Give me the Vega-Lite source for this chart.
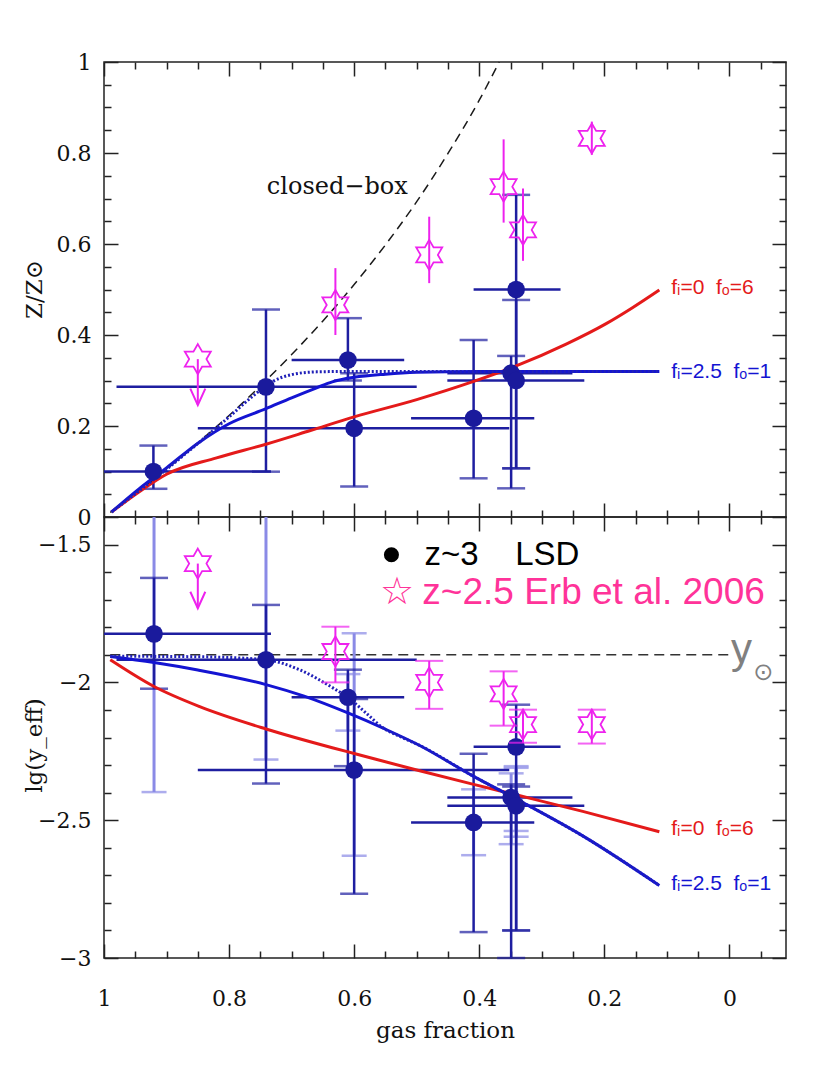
{
  "$schema": "https://vega.github.io/schema/vega-lite/v6.json",
  "background": "white",
  "padding": {"left": 22, "top": 50, "right": 0, "bottom": 0},
  "bounds": "flush",
  "spacing": 0,
  "config": {
    "view": {"stroke": "#222", "strokeWidth": 1.5},
    "axis": {"grid": false, "domain": false, "labelFlush": false, "labelOverlap": false}
  },
  "datasets": {
    "closedbox": [{"f":0.99,"z":0.010},{"f":0.95,"z":0.051},{"f":0.9,"z":0.105},{"f":0.85,"z":0.163},{"f":0.8,"z":0.223},{"f":0.75,"z":0.288},{"f":0.7,"z":0.357},{"f":0.65,"z":0.431},{"f":0.6,"z":0.511},{"f":0.55,"z":0.598},{"f":0.5,"z":0.693},{"f":0.45,"z":0.799},{"f":0.4,"z":0.916},{"f":0.368,"z":1.0}],
    "redTop": [{"f":0.988,"z":0.011},{"f":0.943,"z":0.056},{"f":0.9,"z":0.094},{"f":0.82,"z":0.13},{"f":0.741,"z":0.16},{"f":0.67,"z":0.19},{"f":0.6,"z":0.22},{"f":0.5,"z":0.258},{"f":0.409,"z":0.298},{"f":0.341,"z":0.332},{"f":0.261,"z":0.38},{"f":0.197,"z":0.425},{"f":0.155,"z":0.46},{"f":0.112,"z":0.499}],
    "blueTop": [{"f":0.988,"z":0.011},{"f":0.943,"z":0.063},{"f":0.9,"z":0.108},{"f":0.847,"z":0.165},{"f":0.8,"z":0.205},{"f":0.741,"z":0.238},{"f":0.7,"z":0.262},{"f":0.66,"z":0.284},{"f":0.635,"z":0.297},{"f":0.6,"z":0.307},{"f":0.55,"z":0.314},{"f":0.5,"z":0.318},{"f":0.4,"z":0.32},{"f":0.112,"z":0.32}],
    "dottedTop": [{"f":0.988,"z":0.011},{"f":0.9,"z":0.105},{"f":0.8,"z":0.22},{"f":0.76,"z":0.268},{"f":0.73,"z":0.298},{"f":0.7,"z":0.313},{"f":0.66,"z":0.319},{"f":0.6,"z":0.32},{"f":0.112,"z":0.32}],
    "lsdTop": [
      {"f":0.921,"z":0.100,"zlo":0.062,"zhi":0.157,"flo":0.733,"fhi":1.0},
      {"f":0.741,"z":0.286,"zlo":0.0996,"zhi":0.456,"flo":0.50,"fhi":0.98},
      {"f":0.610,"z":0.345,"zlo":0.30,"zhi":0.437,"flo":0.52,"fhi":0.70},
      {"f":0.600,"z":0.195,"zlo":0.067,"zhi":0.316,"flo":0.352,"fhi":0.85},
      {"f":0.409,"z":0.217,"zlo":0.085,"zhi":0.389,"flo":0.312,"fhi":0.509},
      {"f":0.341,"z":0.500,"zlo":0.107,"zhi":0.708,"flo":0.270,"fhi":0.409},
      {"f":0.349,"z":0.316,"zlo":0.063,"zhi":0.354,"flo":0.251,"fhi":0.451},
      {"f":0.341,"z":0.300,"zlo":0.107,"zhi":0.477,"flo":0.232,"fhi":0.451}
    ],
    "starsTop": [
      {"f":0.630,"z":0.466,"zlo":0.40,"zhi":0.547},
      {"f":0.480,"z":0.576,"zlo":0.514,"zhi":0.66},
      {"f":0.361,"z":0.726,"zlo":0.647,"zhi":0.83},
      {"f":0.330,"z":0.631,"zlo":0.563,"zhi":0.722},
      {"f":0.220,"z":0.832,"zlo":0.796,"zhi":0.869}
    ],
    "limitTop": [{"f":0.850,"z":0.347,"tip":0.246}],
    "ysun": [{"f":0.99,"v":-1.90},{"f":0.0,"v":-1.90}],
    "redBot": [{"f":0.99,"v":-1.918},{"f":0.92,"v":-2.015},{"f":0.847,"v":-2.088},{"f":0.741,"v":-2.169},{"f":0.635,"v":-2.237},{"f":0.6,"v":-2.258},{"f":0.5,"v":-2.318},{"f":0.409,"v":-2.370},{"f":0.341,"v":-2.408},{"f":0.2345,"v":-2.468},{"f":0.112,"v":-2.542}],
    "blueBot": [{"f":0.99,"v":-1.906},{"f":0.92,"v":-1.928},{"f":0.85,"v":-1.955},{"f":0.741,"v":-2.008},{"f":0.68,"v":-2.05},{"f":0.61,"v":-2.111},{"f":0.55,"v":-2.17},{"f":0.496,"v":-2.228},{"f":0.409,"v":-2.341},{"f":0.341,"v":-2.423},{"f":0.2345,"v":-2.557},{"f":0.112,"v":-2.737}],
    "dottedBot": [{"f":0.99,"v":-1.905},{"f":0.85,"v":-1.907},{"f":0.741,"v":-1.918},{"f":0.6875,"v":-1.954},{"f":0.634,"v":-2.02},{"f":0.61,"v":-2.055},{"f":0.581,"v":-2.111},{"f":0.554,"v":-2.165},{"f":0.528,"v":-2.195},{"f":0.496,"v":-2.228},{"f":0.409,"v":-2.341},{"f":0.341,"v":-2.423},{"f":0.2345,"v":-2.557},{"f":0.112,"v":-2.737}],
    "lsdBot": [
      {"f":0.920,"v":-1.824,"vlo":-2.023,"vhi":-1.621,"llo":-2.398,"lhi":-1.40,"lcap":null,"flo":0.733,"fhi":1.0},
      {"f":0.741,"v":-1.918,"vlo":-2.367,"vhi":-1.719,"llo":-2.28,"lhi":-1.40,"lcap":null,"flo":0.50,"fhi":0.98},
      {"f":0.610,"v":-2.054,"vlo":-2.304,"vhi":-1.954,"llo":-2.175,"lhi":-1.97,"lcap":-1.97,"flo":0.52,"fhi":0.70},
      {"f":0.600,"v":-2.318,"vlo":-2.767,"vhi":-2.06,"llo":-2.629,"lhi":-1.822,"lcap":-1.822,"flo":0.352,"fhi":0.85},
      {"f":0.409,"v":-2.508,"vlo":-2.906,"vhi":-2.259,"llo":-2.627,"lhi":-2.388,"lcap":-2.388,"flo":0.312,"fhi":0.509},
      {"f":0.341,"v":-2.234,"vlo":-2.90,"vhi":-2.081,"llo":-2.539,"lhi":-2.304,"lcap":-2.304,"flo":0.270,"fhi":0.409},
      {"f":0.349,"v":-2.418,"vlo":-3.0,"vhi":-2.37,"llo":-2.587,"lhi":-2.33,"lcap":-2.33,"flo":0.251,"fhi":0.451},
      {"f":0.341,"v":-2.448,"vlo":-2.90,"vhi":-2.378,"llo":-2.56,"lhi":-2.31,"lcap":-2.31,"flo":0.232,"fhi":0.451}
    ],
    "starsBot": [
      {"f":0.630,"v":-1.888,"vlo":-2.0,"vhi":-1.798},
      {"f":0.480,"v":-2.0,"vlo":-2.096,"vhi":-1.922},
      {"f":0.361,"v":-2.042,"vlo":-2.157,"vhi":-1.960},
      {"f":0.330,"v":-2.153,"vlo":-2.219,"vhi":-2.099},
      {"f":0.220,"v":-2.153,"vlo":-2.222,"vhi":-2.099}
    ],
    "limitBot": [{"f":0.850,"v":-1.569,"tip":-1.731}]
  },
  "vconcat": [
    {
      "width": 682,
      "height": 455,
      "resolve": {"axis": {"x": "independent", "y": "independent"}},
      "layer": [
        {
          "data": {"name": "closedbox"},
          "mark": {"type": "line", "color": "#1a1a1a", "strokeWidth": 1.5, "strokeDash": [9, 6], "interpolate": "monotone"},
          "encoding": {
            "x": {"field": "f", "type": "quantitative", "scale": {"domain": [-0.0905, 1], "reverse": true, "nice": false, "zero": false},
              "axis": {"orient": "bottom", "values": [1,0.95,0.9,0.85,0.8,0.75,0.7,0.65,0.6,0.55,0.5,0.45,0.4,0.35,0.3,0.25,0.2,0.15,0.1,0.05,0,-0.05], "labels": false, "title": null, "tickColor": "#222", "tickWidth": 1.5, "tickSize": {"condition": {"test": "abs(datum.value*5 - round(datum.value*5)) < 0.001", "value": -14}, "value": -7}}},
            "y": {"field": "z", "type": "quantitative", "scale": {"domain": [0, 1], "nice": false, "zero": false},
              "axis": {"orient": "left", "values": [0,0.05,0.1,0.15,0.2,0.25,0.3,0.35,0.4,0.45,0.5,0.55,0.6,0.65,0.7,0.75,0.8,0.85,0.9,0.95,1], "labels": false, "title": null, "tickColor": "#222", "tickWidth": 1.5, "tickSize": {"condition": {"test": "abs(datum.value*5 - round(datum.value*5)) < 0.001", "value": -14}, "value": -7}}}
          }
        },
        {
          "data": {"name": "lsdTop"},
          "mark": {"type": "rule", "color": "#1e1ea0", "strokeWidth": 2.5},
          "encoding": {
            "x": {"field": "flo", "type": "quantitative", "scale": {"domain": [-0.0905, 1], "reverse": true, "nice": false, "zero": false},
              "axis": {"orient": "top", "values": [1,0.95,0.9,0.85,0.8,0.75,0.7,0.65,0.6,0.55,0.5,0.45,0.4,0.35,0.3,0.25,0.2,0.15,0.1,0.05,0,-0.05], "labels": false, "title": null, "tickColor": "#222", "tickWidth": 1.5, "tickSize": {"condition": {"test": "abs(datum.value*5 - round(datum.value*5)) < 0.001", "value": -14}, "value": -7}}},
            "x2": {"field": "fhi"},
            "y": {"field": "z", "type": "quantitative", "scale": {"domain": [0, 1], "nice": false, "zero": false},
              "axis": {"orient": "right", "values": [0,0.05,0.1,0.15,0.2,0.25,0.3,0.35,0.4,0.45,0.5,0.55,0.6,0.65,0.7,0.75,0.8,0.85,0.9,0.95,1], "labels": false, "title": null, "tickColor": "#222", "tickWidth": 1.5, "tickSize": {"condition": {"test": "abs(datum.value*5 - round(datum.value*5)) < 0.001", "value": -14}, "value": -7}}}
          }
        },
        {
          "data": {"name": "lsdTop"},
          "mark": {"type": "rule", "color": "#1e1ea0", "strokeWidth": 2.5},
          "encoding": {
            "x": {"field": "f", "type": "quantitative", "scale": {"domain": [-0.0905, 1], "reverse": true, "nice": false, "zero": false}, "axis": null},
            "y": {"field": "zlo", "type": "quantitative", "scale": {"domain": [0, 1], "nice": false, "zero": false},
              "axis": {"orient": "left", "values": [0,0.2,0.4,0.6,0.8,1], "ticks": false, "labelExpr": "format(datum.value, '~g')", "labelFont": "DejaVu Serif", "labelFontSize": 22, "labelColor": "#111", "labelPadding": 13, "title": "Z/Z⊙", "titleFont": "DejaVu Serif", "titleFontSize": 23, "titleFontWeight": "normal", "titleColor": "#111", "titleX": -70, "titleY": 227, "titleBaseline": "middle", "titleAlign": "center", "titleAngle": 270}},
            "y2": {"field": "zhi"}
          }
        },
        {
          "data": {"name": "lsdTop"},
          "mark": {"type": "tick", "orient": "horizontal", "color": "#1e1ea0", "size": 28, "thickness": 2.5},
          "encoding": {
            "x": {"field": "f", "type": "quantitative", "scale": {"domain": [-0.0905, 1], "reverse": true, "nice": false, "zero": false}, "axis": null},
            "y": {"field": "zlo", "type": "quantitative", "scale": {"domain": [0, 1], "nice": false, "zero": false}, "axis": null}
          }
        },
        {
          "data": {"name": "lsdTop"},
          "mark": {"type": "tick", "orient": "horizontal", "color": "#1e1ea0", "size": 28, "thickness": 2.5},
          "encoding": {
            "x": {"field": "f", "type": "quantitative", "scale": {"domain": [-0.0905, 1], "reverse": true, "nice": false, "zero": false}, "axis": null},
            "y": {"field": "zhi", "type": "quantitative", "scale": {"domain": [0, 1], "nice": false, "zero": false}, "axis": null}
          }
        },
        {
          "data": {"name": "redTop"},
          "mark": {"type": "line", "color": "#e41a1a", "strokeWidth": 3, "interpolate": "monotone"},
          "encoding": {
            "x": {"field": "f", "type": "quantitative", "scale": {"domain": [-0.0905, 1], "reverse": true, "nice": false, "zero": false}, "axis": null},
            "y": {"field": "z", "type": "quantitative", "scale": {"domain": [0, 1], "nice": false, "zero": false}, "axis": null}
          }
        },
        {
          "data": {"name": "blueTop"},
          "mark": {"type": "line", "color": "#1414d2", "strokeWidth": 3, "interpolate": "monotone"},
          "encoding": {
            "x": {"field": "f", "type": "quantitative", "scale": {"domain": [-0.0905, 1], "reverse": true, "nice": false, "zero": false}, "axis": null},
            "y": {"field": "z", "type": "quantitative", "scale": {"domain": [0, 1], "nice": false, "zero": false}, "axis": null}
          }
        },
        {
          "data": {"name": "dottedTop"},
          "mark": {"type": "line", "color": "#2020b8", "strokeWidth": 3, "strokeDash": [2, 2], "interpolate": "monotone"},
          "encoding": {
            "x": {"field": "f", "type": "quantitative", "scale": {"domain": [-0.0905, 1], "reverse": true, "nice": false, "zero": false}, "axis": null},
            "y": {"field": "z", "type": "quantitative", "scale": {"domain": [0, 1], "nice": false, "zero": false}, "axis": null}
          }
        },
        {
          "data": {"name": "lsdTop"},
          "mark": {"type": "point", "shape": "circle", "filled": true, "color": "#1a1a9c", "size": 314, "opacity": 1},
          "encoding": {
            "x": {"field": "f", "type": "quantitative", "scale": {"domain": [-0.0905, 1], "reverse": true, "nice": false, "zero": false}, "axis": null},
            "y": {"field": "z", "type": "quantitative", "scale": {"domain": [0, 1], "nice": false, "zero": false}, "axis": null}
          }
        },
        {
          "data": {"name": "starsTop"},
          "mark": {"type": "rule", "color": "#ee22ee", "strokeWidth": 2},
          "encoding": {
            "x": {"field": "f", "type": "quantitative", "scale": {"domain": [-0.0905, 1], "reverse": true, "nice": false, "zero": false}, "axis": null},
            "y": {"field": "zlo", "type": "quantitative", "scale": {"domain": [0, 1], "nice": false, "zero": false}, "axis": null},
            "y2": {"field": "zhi"}
          }
        },
        {
          "data": {"name": "starsTop"},
          "mark": {"type": "point", "shape": "M0,-1L0.289,-0.5L0.866,-0.5L0.577,0L0.866,0.5L0.289,0.5L0,1L-0.289,0.5L-0.866,0.5L-0.577,0L-0.866,-0.5L-0.289,-0.5Z", "filled": false, "color": "#ee22ee", "strokeWidth": 1.8, "size": 900, "opacity": 1},
          "encoding": {
            "x": {"field": "f", "type": "quantitative", "scale": {"domain": [-0.0905, 1], "reverse": true, "nice": false, "zero": false}, "axis": null},
            "y": {"field": "z", "type": "quantitative", "scale": {"domain": [0, 1], "nice": false, "zero": false}, "axis": null}
          }
        },
        {
          "data": {"name": "limitTop"},
          "mark": {"type": "point", "shape": "M0,-1L0.289,-0.5L0.866,-0.5L0.577,0L0.866,0.5L0.289,0.5L0,1L-0.289,0.5L-0.866,0.5L-0.577,0L-0.866,-0.5L-0.289,-0.5Z", "filled": false, "color": "#ee22ee", "strokeWidth": 1.8, "size": 900, "opacity": 1},
          "encoding": {
            "x": {"field": "f", "type": "quantitative", "scale": {"domain": [-0.0905, 1], "reverse": true, "nice": false, "zero": false}, "axis": null},
            "y": {"field": "z", "type": "quantitative", "scale": {"domain": [0, 1], "nice": false, "zero": false}, "axis": null}
          }
        },
        {
          "data": {"name": "limitTop"},
          "mark": {"type": "rule", "color": "#ee22ee", "strokeWidth": 2},
          "encoding": {
            "x": {"field": "f", "type": "quantitative", "scale": {"domain": [-0.0905, 1], "reverse": true, "nice": false, "zero": false}, "axis": null},
            "y": {"field": "z", "type": "quantitative", "scale": {"domain": [0, 1], "nice": false, "zero": false}, "axis": null},
            "y2": {"field": "tip"}
          }
        },
        {
          "data": {"name": "limitTop"},
          "mark": {"type": "point", "shape": "M-1,-2.2L0,0L1,-2.2", "filled": false, "color": "#ee22ee", "strokeWidth": 2, "size": 225, "opacity": 1},
          "encoding": {
            "x": {"field": "f", "type": "quantitative", "scale": {"domain": [-0.0905, 1], "reverse": true, "nice": false, "zero": false}, "axis": null},
            "y": {"field": "tip", "type": "quantitative", "scale": {"domain": [0, 1], "nice": false, "zero": false}, "axis": null}
          }
        },
        {
          "data": {"values": [{"f": 0.627, "z": 0.726, "label": "closed−box"}]},
          "mark": {"type": "text", "font": "DejaVu Serif", "fontSize": 24, "color": "#111", "align": "center", "baseline": "middle"},
          "encoding": {
            "x": {"field": "f", "type": "quantitative", "scale": {"domain": [-0.0905, 1], "reverse": true, "nice": false, "zero": false}, "axis": null},
            "y": {"field": "z", "type": "quantitative", "scale": {"domain": [0, 1], "nice": false, "zero": false}, "axis": null},
            "text": {"field": "label"}
          }
        },
        {
          "data": {"values": [{"f": 0.093, "z": 0.503, "label": "fᵢ=0\u00a0\u00a0fₒ=6"}]},
          "mark": {"type": "text", "font": "Liberation Sans", "fontSize": 21, "color": "#e41a1a", "align": "left", "baseline": "middle"},
          "encoding": {
            "x": {"field": "f", "type": "quantitative", "scale": {"domain": [-0.0905, 1], "reverse": true, "nice": false, "zero": false}, "axis": null},
            "y": {"field": "z", "type": "quantitative", "scale": {"domain": [0, 1], "nice": false, "zero": false}, "axis": null},
            "text": {"field": "label"}
          }
        },
        {
          "data": {"values": [{"f": 0.093, "z": 0.319, "label": "fᵢ=2.5\u00a0\u00a0fₒ=1"}]},
          "mark": {"type": "text", "font": "Liberation Sans", "fontSize": 21, "color": "#1414d2", "align": "left", "baseline": "middle"},
          "encoding": {
            "x": {"field": "f", "type": "quantitative", "scale": {"domain": [-0.0905, 1], "reverse": true, "nice": false, "zero": false}, "axis": null},
            "y": {"field": "z", "type": "quantitative", "scale": {"domain": [0, 1], "nice": false, "zero": false}, "axis": null},
            "text": {"field": "label"}
          }
        }
      ]
    },
    {
      "width": 682,
      "height": 441,
      "resolve": {"axis": {"x": "independent", "y": "independent"}},
      "layer": [
        {
          "data": {"name": "ysun"},
          "mark": {"type": "line", "color": "#333", "strokeWidth": 1.5, "strokeDash": [10, 6]},
          "encoding": {
            "x": {"field": "f", "type": "quantitative", "scale": {"domain": [-0.0905, 1], "reverse": true, "nice": false, "zero": false},
              "axis": {"orient": "bottom", "values": [1,0.95,0.9,0.85,0.8,0.75,0.7,0.65,0.6,0.55,0.5,0.45,0.4,0.35,0.3,0.25,0.2,0.15,0.1,0.05,0,-0.05], "labels": false, "title": null, "tickColor": "#222", "tickWidth": 1.5, "tickSize": {"condition": {"test": "abs(datum.value*5 - round(datum.value*5)) < 0.001", "value": -14}, "value": -7}}},
            "y": {"field": "v", "type": "quantitative", "scale": {"domain": [-3, -1.4], "nice": false, "zero": false},
              "axis": {"orient": "left", "values": [-3,-2.9,-2.8,-2.7,-2.6,-2.5,-2.4,-2.3,-2.2,-2.1,-2,-1.9,-1.8,-1.7,-1.6,-1.5], "labels": false, "title": null, "tickColor": "#222", "tickWidth": 1.5, "tickSize": {"condition": {"test": "abs(datum.value*2 - round(datum.value*2)) < 0.001", "value": -14}, "value": -7}}}
          }
        },
        {
          "data": {"name": "lsdBot"},
          "mark": {"type": "rule", "color": "#8a8ae6", "strokeWidth": 3},
          "encoding": {
            "x": {"field": "f", "type": "quantitative", "scale": {"domain": [-0.0905, 1], "reverse": true, "nice": false, "zero": false},
              "axis": {"orient": "top", "values": [1,0.95,0.9,0.85,0.8,0.75,0.7,0.65,0.6,0.55,0.5,0.45,0.4,0.35,0.3,0.25,0.2,0.15,0.1,0.05,0,-0.05], "labels": false, "title": null, "tickColor": "#222", "tickWidth": 1.5, "tickSize": {"condition": {"test": "abs(datum.value*5 - round(datum.value*5)) < 0.001", "value": -14}, "value": -7}}},
            "y": {"field": "llo", "type": "quantitative", "scale": {"domain": [-3, -1.4], "nice": false, "zero": false},
              "axis": {"orient": "right", "values": [-3,-2.9,-2.8,-2.7,-2.6,-2.5,-2.4,-2.3,-2.2,-2.1,-2,-1.9,-1.8,-1.7,-1.6,-1.5], "labels": false, "title": null, "tickColor": "#222", "tickWidth": 1.5, "tickSize": {"condition": {"test": "abs(datum.value*2 - round(datum.value*2)) < 0.001", "value": -14}, "value": -7}}},
            "y2": {"field": "lhi"}
          }
        },
        {
          "data": {"name": "lsdBot"},
          "mark": {"type": "tick", "orient": "horizontal", "color": "#8a8ae6", "size": 25, "thickness": 2.5},
          "encoding": {
            "x": {"field": "f", "type": "quantitative", "scale": {"domain": [-0.0905, 1], "reverse": true, "nice": false, "zero": false}, "axis": null},
            "y": {"field": "llo", "type": "quantitative", "scale": {"domain": [-3, -1.4], "nice": false, "zero": false}, "axis": null}
          }
        },
        {
          "data": {"name": "lsdBot"},
          "mark": {"type": "tick", "orient": "horizontal", "color": "#8a8ae6", "size": 25, "thickness": 2.5},
          "encoding": {
            "x": {"field": "f", "type": "quantitative", "scale": {"domain": [-0.0905, 1], "reverse": true, "nice": false, "zero": false}, "axis": null},
            "y": {"field": "lcap", "type": "quantitative", "scale": {"domain": [-3, -1.4], "nice": false, "zero": false}, "axis": null}
          }
        },
        {
          "data": {"name": "lsdBot"},
          "mark": {"type": "rule", "color": "#1e1ea0", "strokeWidth": 2.5},
          "encoding": {
            "x": {"field": "flo", "type": "quantitative", "scale": {"domain": [-0.0905, 1], "reverse": true, "nice": false, "zero": false}, "axis": null},
            "x2": {"field": "fhi"},
            "y": {"field": "v", "type": "quantitative", "scale": {"domain": [-3, -1.4], "nice": false, "zero": false}, "axis": null}
          }
        },
        {
          "data": {"name": "lsdBot"},
          "mark": {"type": "rule", "color": "#1e1ea0", "strokeWidth": 2.5},
          "encoding": {
            "x": {"field": "f", "type": "quantitative", "scale": {"domain": [-0.0905, 1], "reverse": true, "nice": false, "zero": false},
              "axis": {"orient": "bottom", "values": [1,0.8,0.6,0.4,0.2,0], "ticks": false, "labelExpr": "format(datum.value, '~g')", "labelFont": "DejaVu Serif", "labelFontSize": 22, "labelColor": "#111", "labelPadding": 30, "title": "gas fraction", "titleFont": "DejaVu Serif", "titleFontSize": 23, "titleFontWeight": "normal", "titleColor": "#111", "titleX": 341, "titleY": 79, "titleBaseline": "alphabetic", "titleAlign": "center"}},
            "y": {"field": "vlo", "type": "quantitative", "scale": {"domain": [-3, -1.4], "nice": false, "zero": false},
              "axis": {"orient": "left", "values": [-3,-2.5,-2,-1.5], "ticks": false, "labelExpr": "format(datum.value, '~g')", "labelFont": "DejaVu Serif", "labelFontSize": 22, "labelColor": "#111", "labelPadding": 13, "title": "lg(y_eff)", "titleFont": "DejaVu Serif", "titleFontSize": 23, "titleFontWeight": "normal", "titleColor": "#111", "titleX": -70, "titleY": 228, "titleBaseline": "middle", "titleAlign": "center", "titleAngle": 270}},
            "y2": {"field": "vhi"}
          }
        },
        {
          "data": {"name": "lsdBot"},
          "mark": {"type": "tick", "orient": "horizontal", "color": "#1e1ea0", "size": 28, "thickness": 2.5},
          "encoding": {
            "x": {"field": "f", "type": "quantitative", "scale": {"domain": [-0.0905, 1], "reverse": true, "nice": false, "zero": false}, "axis": null},
            "y": {"field": "vlo", "type": "quantitative", "scale": {"domain": [-3, -1.4], "nice": false, "zero": false}, "axis": null}
          }
        },
        {
          "data": {"name": "lsdBot"},
          "mark": {"type": "tick", "orient": "horizontal", "color": "#1e1ea0", "size": 28, "thickness": 2.5},
          "encoding": {
            "x": {"field": "f", "type": "quantitative", "scale": {"domain": [-0.0905, 1], "reverse": true, "nice": false, "zero": false}, "axis": null},
            "y": {"field": "vhi", "type": "quantitative", "scale": {"domain": [-3, -1.4], "nice": false, "zero": false}, "axis": null}
          }
        },
        {
          "data": {"name": "redBot"},
          "mark": {"type": "line", "color": "#e41a1a", "strokeWidth": 3, "interpolate": "monotone"},
          "encoding": {
            "x": {"field": "f", "type": "quantitative", "scale": {"domain": [-0.0905, 1], "reverse": true, "nice": false, "zero": false}, "axis": null},
            "y": {"field": "v", "type": "quantitative", "scale": {"domain": [-3, -1.4], "nice": false, "zero": false}, "axis": null}
          }
        },
        {
          "data": {"name": "blueBot"},
          "mark": {"type": "line", "color": "#1414d2", "strokeWidth": 3, "interpolate": "monotone"},
          "encoding": {
            "x": {"field": "f", "type": "quantitative", "scale": {"domain": [-0.0905, 1], "reverse": true, "nice": false, "zero": false}, "axis": null},
            "y": {"field": "v", "type": "quantitative", "scale": {"domain": [-3, -1.4], "nice": false, "zero": false}, "axis": null}
          }
        },
        {
          "data": {"name": "dottedBot"},
          "mark": {"type": "line", "color": "#2020b8", "strokeWidth": 3, "strokeDash": [2, 2], "interpolate": "monotone"},
          "encoding": {
            "x": {"field": "f", "type": "quantitative", "scale": {"domain": [-0.0905, 1], "reverse": true, "nice": false, "zero": false}, "axis": null},
            "y": {"field": "v", "type": "quantitative", "scale": {"domain": [-3, -1.4], "nice": false, "zero": false}, "axis": null}
          }
        },
        {
          "data": {"name": "lsdBot"},
          "mark": {"type": "point", "shape": "circle", "filled": true, "color": "#1a1a9c", "size": 314, "opacity": 1},
          "encoding": {
            "x": {"field": "f", "type": "quantitative", "scale": {"domain": [-0.0905, 1], "reverse": true, "nice": false, "zero": false}, "axis": null},
            "y": {"field": "v", "type": "quantitative", "scale": {"domain": [-3, -1.4], "nice": false, "zero": false}, "axis": null}
          }
        },
        {
          "data": {"name": "starsBot"},
          "mark": {"type": "rule", "color": "#ee22ee", "strokeWidth": 2},
          "encoding": {
            "x": {"field": "f", "type": "quantitative", "scale": {"domain": [-0.0905, 1], "reverse": true, "nice": false, "zero": false}, "axis": null},
            "y": {"field": "vlo", "type": "quantitative", "scale": {"domain": [-3, -1.4], "nice": false, "zero": false}, "axis": null},
            "y2": {"field": "vhi"}
          }
        },
        {
          "data": {"name": "starsBot"},
          "mark": {"type": "tick", "orient": "horizontal", "color": "#ee22ee", "size": 28, "thickness": 2},
          "encoding": {
            "x": {"field": "f", "type": "quantitative", "scale": {"domain": [-0.0905, 1], "reverse": true, "nice": false, "zero": false}, "axis": null},
            "y": {"field": "vlo", "type": "quantitative", "scale": {"domain": [-3, -1.4], "nice": false, "zero": false}, "axis": null}
          }
        },
        {
          "data": {"name": "starsBot"},
          "mark": {"type": "tick", "orient": "horizontal", "color": "#ee22ee", "size": 28, "thickness": 2},
          "encoding": {
            "x": {"field": "f", "type": "quantitative", "scale": {"domain": [-0.0905, 1], "reverse": true, "nice": false, "zero": false}, "axis": null},
            "y": {"field": "vhi", "type": "quantitative", "scale": {"domain": [-3, -1.4], "nice": false, "zero": false}, "axis": null}
          }
        },
        {
          "data": {"name": "starsBot"},
          "mark": {"type": "point", "shape": "M0,-1L0.289,-0.5L0.866,-0.5L0.577,0L0.866,0.5L0.289,0.5L0,1L-0.289,0.5L-0.866,0.5L-0.577,0L-0.866,-0.5L-0.289,-0.5Z", "filled": false, "color": "#ee22ee", "strokeWidth": 1.8, "size": 900, "opacity": 1},
          "encoding": {
            "x": {"field": "f", "type": "quantitative", "scale": {"domain": [-0.0905, 1], "reverse": true, "nice": false, "zero": false}, "axis": null},
            "y": {"field": "v", "type": "quantitative", "scale": {"domain": [-3, -1.4], "nice": false, "zero": false}, "axis": null}
          }
        },
        {
          "data": {"name": "limitBot"},
          "mark": {"type": "point", "shape": "M0,-1L0.289,-0.5L0.866,-0.5L0.577,0L0.866,0.5L0.289,0.5L0,1L-0.289,0.5L-0.866,0.5L-0.577,0L-0.866,-0.5L-0.289,-0.5Z", "filled": false, "color": "#ee22ee", "strokeWidth": 1.8, "size": 900, "opacity": 1},
          "encoding": {
            "x": {"field": "f", "type": "quantitative", "scale": {"domain": [-0.0905, 1], "reverse": true, "nice": false, "zero": false}, "axis": null},
            "y": {"field": "v", "type": "quantitative", "scale": {"domain": [-3, -1.4], "nice": false, "zero": false}, "axis": null}
          }
        },
        {
          "data": {"name": "limitBot"},
          "mark": {"type": "rule", "color": "#ee22ee", "strokeWidth": 2},
          "encoding": {
            "x": {"field": "f", "type": "quantitative", "scale": {"domain": [-0.0905, 1], "reverse": true, "nice": false, "zero": false}, "axis": null},
            "y": {"field": "v", "type": "quantitative", "scale": {"domain": [-3, -1.4], "nice": false, "zero": false}, "axis": null},
            "y2": {"field": "tip"}
          }
        },
        {
          "data": {"name": "limitBot"},
          "mark": {"type": "point", "shape": "M-1,-2.2L0,0L1,-2.2", "filled": false, "color": "#ee22ee", "strokeWidth": 2, "size": 225, "opacity": 1},
          "encoding": {
            "x": {"field": "f", "type": "quantitative", "scale": {"domain": [-0.0905, 1], "reverse": true, "nice": false, "zero": false}, "axis": null},
            "y": {"field": "tip", "type": "quantitative", "scale": {"domain": [-3, -1.4], "nice": false, "zero": false}, "axis": null}
          }
        },
        {
          "data": {"values": [{"f": 0.5404, "v": -1.537}]},
          "mark": {"type": "point", "shape": "circle", "filled": true, "color": "#000", "size": 227, "opacity": 1},
          "encoding": {
            "x": {"field": "f", "type": "quantitative", "scale": {"domain": [-0.0905, 1], "reverse": true, "nice": false, "zero": false}, "axis": null},
            "y": {"field": "v", "type": "quantitative", "scale": {"domain": [-3, -1.4], "nice": false, "zero": false}, "axis": null}
          }
        },
        {
          "data": {"values": [{"f": 0.4876, "v": -1.537, "label": "z~3\u00a0\u00a0\u00a0\u00a0LSD"}]},
          "mark": {"type": "text", "font": "Liberation Sans", "fontSize": 33, "color": "#000", "align": "left", "baseline": "middle"},
          "encoding": {
            "x": {"field": "f", "type": "quantitative", "scale": {"domain": [-0.0905, 1], "reverse": true, "nice": false, "zero": false}, "axis": null},
            "y": {"field": "v", "type": "quantitative", "scale": {"domain": [-3, -1.4], "nice": false, "zero": false}, "axis": null},
            "text": {"field": "label"}
          }
        },
        {
          "data": {"values": [{"f": 0.5316, "v": -1.674, "label": "☆"}]},
          "mark": {"type": "text", "font": "DejaVu Sans", "fontSize": 38, "color": "#ff3399", "align": "center", "baseline": "middle"},
          "encoding": {
            "x": {"field": "f", "type": "quantitative", "scale": {"domain": [-0.0905, 1], "reverse": true, "nice": false, "zero": false}, "axis": null},
            "y": {"field": "v", "type": "quantitative", "scale": {"domain": [-3, -1.4], "nice": false, "zero": false}, "axis": null},
            "text": {"field": "label"}
          }
        },
        {
          "data": {"values": [{"f": 0.491, "v": -1.677, "label": "z~2.5 Erb et al. 2006"}]},
          "mark": {"type": "text", "font": "Liberation Sans", "fontSize": 37, "color": "#ff3399", "align": "left", "baseline": "middle"},
          "encoding": {
            "x": {"field": "f", "type": "quantitative", "scale": {"domain": [-0.0905, 1], "reverse": true, "nice": false, "zero": false}, "axis": null},
            "y": {"field": "v", "type": "quantitative", "scale": {"domain": [-3, -1.4], "nice": false, "zero": false}, "axis": null},
            "text": {"field": "label"}
          }
        },
        {
          "data": {"values": [{"f": -0.0027, "v": -1.931, "label": "y"}]},
          "mark": {"type": "text", "font": "Liberation Sans", "fontSize": 42, "color": "#808080", "align": "left", "baseline": "alphabetic"},
          "encoding": {
            "x": {"field": "f", "type": "quantitative", "scale": {"domain": [-0.0905, 1], "reverse": true, "nice": false, "zero": false}, "axis": null},
            "y": {"field": "v", "type": "quantitative", "scale": {"domain": [-3, -1.4], "nice": false, "zero": false}, "axis": null},
            "text": {"field": "label"}
          }
        },
        {
          "data": {"values": [{"f": -0.054, "v": -1.967, "label": "⊙"}]},
          "mark": {"type": "text", "font": "DejaVu Sans", "fontSize": 24, "color": "#808080", "align": "center", "baseline": "middle"},
          "encoding": {
            "x": {"field": "f", "type": "quantitative", "scale": {"domain": [-0.0905, 1], "reverse": true, "nice": false, "zero": false}, "axis": null},
            "y": {"field": "v", "type": "quantitative", "scale": {"domain": [-3, -1.4], "nice": false, "zero": false}, "axis": null},
            "text": {"field": "label"}
          }
        },
        {
          "data": {"values": [{"f": 0.093, "v": -2.533, "label": "fᵢ=0\u00a0\u00a0fₒ=6"}]},
          "mark": {"type": "text", "font": "Liberation Sans", "fontSize": 21, "color": "#e41a1a", "align": "left", "baseline": "middle"},
          "encoding": {
            "x": {"field": "f", "type": "quantitative", "scale": {"domain": [-0.0905, 1], "reverse": true, "nice": false, "zero": false}, "axis": null},
            "y": {"field": "v", "type": "quantitative", "scale": {"domain": [-3, -1.4], "nice": false, "zero": false}, "axis": null},
            "text": {"field": "label"}
          }
        },
        {
          "data": {"values": [{"f": 0.093, "v": -2.731, "label": "fᵢ=2.5\u00a0\u00a0fₒ=1"}]},
          "mark": {"type": "text", "font": "Liberation Sans", "fontSize": 21, "color": "#1414d2", "align": "left", "baseline": "middle"},
          "encoding": {
            "x": {"field": "f", "type": "quantitative", "scale": {"domain": [-0.0905, 1], "reverse": true, "nice": false, "zero": false}, "axis": null},
            "y": {"field": "v", "type": "quantitative", "scale": {"domain": [-3, -1.4], "nice": false, "zero": false}, "axis": null},
            "text": {"field": "label"}
          }
        }
      ]
    }
  ]
}
